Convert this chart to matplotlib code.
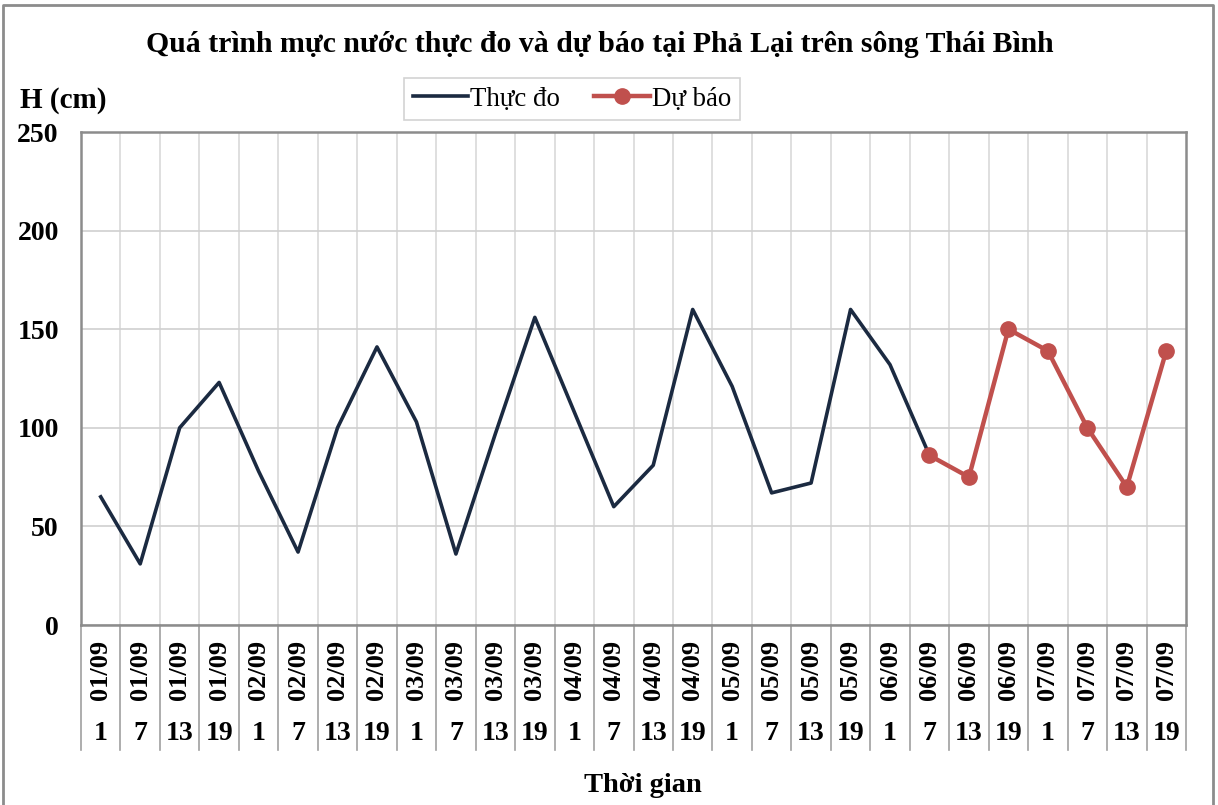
import matplotlib
matplotlib.use("Agg")
import matplotlib.pyplot as plt
import numpy as np

days = ["01/09"] * 4 + ["02/09"] * 4 + ["03/09"] * 4 + ["04/09"] * 4 + \
       ["05/09"] * 4 + ["06/09"] * 4 + ["07/09"] * 4
hours = ["1", "7", "13", "19"] * 7

observed = [65, 31, 100, 123, 78, 37, 100, 141, 103, 36, 97, 156, 108, 60,
            81, 160, 121, 67, 72, 160, 132, 86]
forecast = [86, 75, 150, 139, 100, 70, 139]
forecast_start = 21

plt.rcParams['font.family'] = ['Liberation Serif', 'DejaVu Serif']

fig = plt.figure(figsize=(12.18, 8.05), dpi=100)
ax = fig.add_axes([81 / 1218, 1 - 625 / 805, (1186 - 81) / 1218, (625 - 132) / 805])

x = np.arange(len(days))
ax.plot(x[:len(observed)], observed, color='#1b2a41', lw=2.6, label='Thực đo')
xf = np.arange(forecast_start, forecast_start + len(forecast))
ax.plot(xf, forecast, color='#c0504d', lw=3.2, marker='o', ms=11, label='Dự báo')

ax.set_xlim(-0.5, len(days) - 0.5)
ax.set_ylim(0, 250)
ax.set_yticks([0, 50, 100, 150, 200, 250])
ax.tick_params(axis='y', length=0, pad=16, labelsize=20)
for t in ax.get_yticklabels():
    t.set_fontweight('bold')
ax.set_xticks(x)
ax.set_xticks(np.arange(0.5, len(days) - 1, 1), minor=True)
ax.tick_params(axis='x', which='both', length=0, labelbottom=False)
ax.grid(axis='y', which='major', color='#d0d0d0', lw=1.2)
ax.grid(axis='x', which='minor', color='#d9d9d9', lw=1.2)
ax.set_axisbelow(True)
for s in ax.spines.values():
    s.set_color('#8c8c8c')
    s.set_linewidth(1.8)

# two-level category labels
tr = ax.get_xaxis_transform()
for b in np.arange(-0.5, len(days), 1):
    ax.plot([b, b], [0, -0.254], transform=tr, color='#a0a0a0', lw=1.2, clip_on=False)
for i in range(len(days)):
    ax.text(i, -0.091, days[i], transform=tr, rotation=90, ha='center', va='center',
            fontsize=19, fontweight='bold')
    ax.text(i, -0.221, hours[i], transform=tr, ha='center', va='center',
            fontsize=20, fontweight='bold')

fig.text(600 / 1218, 1 - 45 / 805, 'Quá trình mực nước thực đo và dự báo tại Phả Lại trên sông Thái Bình',
         ha='center', va='center', fontsize=21.4, fontweight='bold')
fig.text(20 / 1218, 1 - 100 / 805, 'H (cm)', ha='left', va='center', fontsize=21, fontweight='bold')
fig.text(643 / 1218, 1 - 785 / 805, 'Thời gian', ha='center', va='center', fontsize=20.5, fontweight='bold')

leg = fig.legend(loc='center', bbox_to_anchor=(572 / 1218, 1 - 99 / 805), ncol=2,
                 fancybox=False, edgecolor='#c8c8c8', fontsize=19.4, handlelength=2.05,
                 handletextpad=0.1, columnspacing=1.26, borderpad=0.3, borderaxespad=0)
leg.get_frame().set_linewidth(1.2)

# outer chart border
fig.add_artist(plt.Line2D([3 / 1218, 3 / 1218, 1213 / 1218, 1213 / 1218],
                          [0, 1 - 5 / 805, 1 - 5 / 805, 0], transform=fig.transFigure,
                          color='#8c8c8c', lw=2))

fig.savefig('out.png', dpi=100)
